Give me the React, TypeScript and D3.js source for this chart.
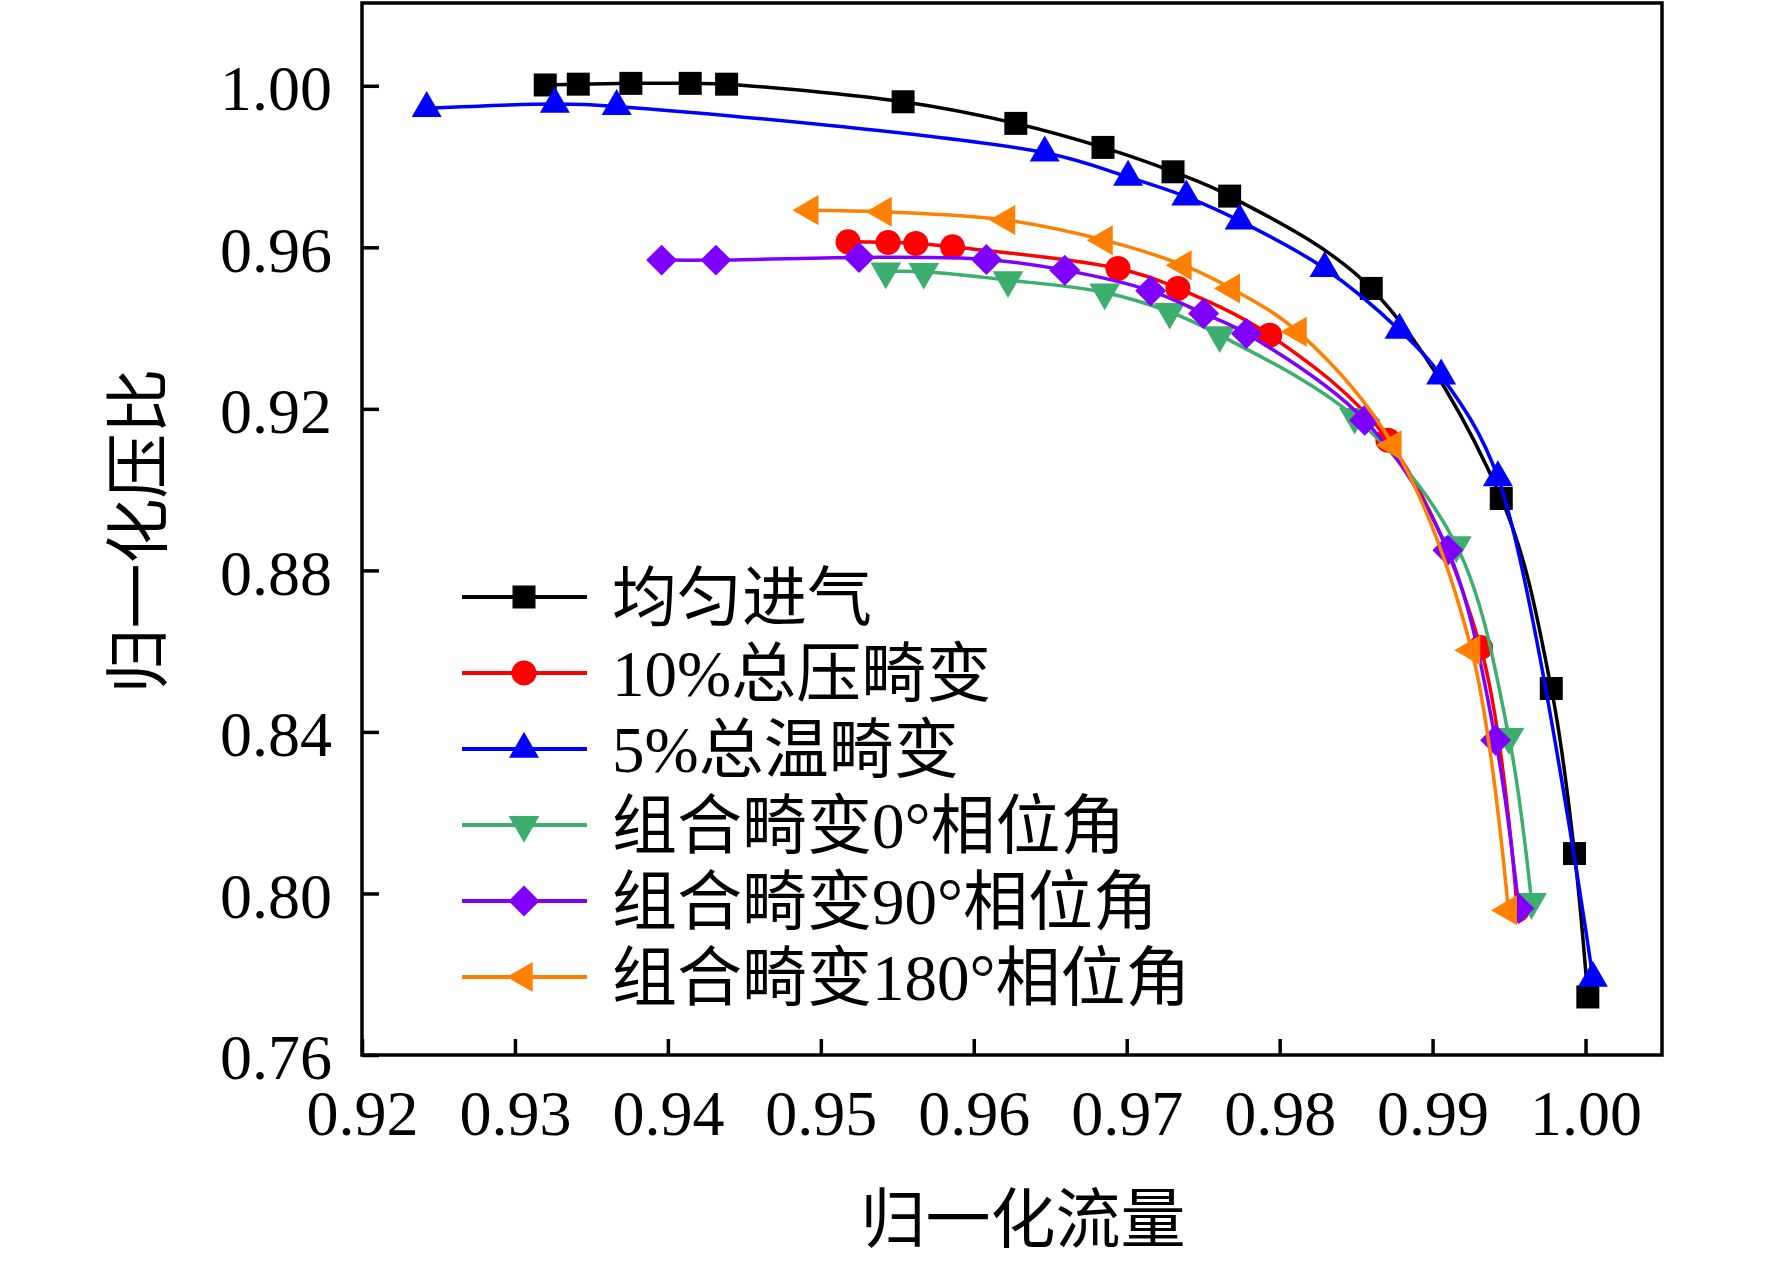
import { useRef, useEffect } from "react";
import * as d3 from "d3";

// 均匀进气
const uniformFlow = [0.93198, 0.93414, 0.93758, 0.94146, 0.94384, 0.95538, 0.96275, 0.96845, 0.97303, 0.97673, 0.98599, 0.99449, 0.99776, 0.99928, 1.00015];
const uniformPR = [1.0002, 1.0004, 1.0006, 1.0006, 1.0004, 0.99604, 0.99069, 0.98474, 0.9787, 0.97268, 0.94982, 0.89781, 0.85075, 0.80988, 0.77437];

// 10%总压畸变
const ptFlow = [0.95178, 0.9544, 0.95621, 0.95861, 0.96943, 0.97335, 0.97935, 0.98708, 0.99314, 0.99553];
const ptPR = [0.96136, 0.96121, 0.96097, 0.96012, 0.95477, 0.94982, 0.93825, 0.91225, 0.86091, 0.79586];

// 5%总温畸变
const ttFlow = [0.92423, 0.93261, 0.93665, 0.96464, 0.97009, 0.9739, 0.97739, 0.98294, 0.98784, 0.99056, 0.99427, 1.00048];
const ttPR = [0.9944, 0.99547, 0.9949, 0.98341, 0.97739, 0.97251, 0.96656, 0.95477, 0.93949, 0.92817, 0.90301, 0.77907];

// 组合畸变0°相位角
const c0Flow = [0.95425, 0.95673, 0.96224, 0.96856, 0.97281, 0.97608, 0.9849, 0.99155, 0.99499, 0.99647];
const c0PR = [0.95403, 0.95393, 0.95188, 0.94883, 0.94403, 0.93825, 0.91802, 0.88624, 0.83877, 0.79792];

// 组合畸变90°相位角
const c90Flow = [0.93959, 0.94314, 0.9525, 0.96083, 0.96595, 0.97157, 0.97503, 0.97782, 0.98556, 0.991, 0.99412, 0.99564];
const c90PR = [0.95683, 0.95683, 0.9575, 0.957, 0.95435, 0.94923, 0.94363, 0.93868, 0.9172, 0.885, 0.83795, 0.79628];

// 组合畸变180°相位角
const c180Flow = [0.94928, 0.95407, 0.96214, 0.96852, 0.97368, 0.97684, 0.9812, 0.98741, 0.99255, 0.99495];
const c180PR = [0.96921, 0.96879, 0.96674, 0.96178, 0.95559, 0.94982, 0.93907, 0.91101, 0.86024, 0.79586];

const seriesNames = ["均匀进气", "10%总压畸变", "5%总温畸变", "组合畸变0°相位角", "组合畸变90°相位角", "组合畸变180°相位角"];
const seriesColors = ["#000000", "#ff0000", "#0000ff", "#3cae6e", "#8000ff", "#ff8000"];
const seriesFlows = [uniformFlow, ptFlow, ttFlow, c0Flow, c90Flow, c180Flow];
const seriesPRs = [uniformPR, ptPR, ttPR, c0PR, c90PR, c180PR];

const xTicks = [0.92, 0.93, 0.94, 0.95, 0.96, 0.97, 0.98, 0.99, 1.0];
const yTicks = [0.76, 0.8, 0.84, 0.88, 0.92, 0.96, 1.0];

const WIDTH = 1772;
const HEIGHT = 1261;
const FONT = "'Liberation Serif', 'Times New Roman', 'Noto Sans CJK SC', serif";

// marker shape per series: symbol, size, rotation
const markers: [d3.SymbolType, number, number][] = [
  [d3.symbolSquare, 529, 0],
  [d3.symbolCircle, 491, 0],
  [d3.symbolTriangle, 390, 0],
  [d3.symbolTriangle, 410, 180],
  [d3.symbolSquare, 480, 45],
  [d3.symbolTriangle, 390, -90],
];

export default function App() {
  const svgRef = useRef<SVGSVGElement>(null);

  useEffect(() => {
    if (!svgRef.current) return;
    const svg = d3.select(svgRef.current);
    svg.selectAll("*").remove();

    const left = 362, right = 1662, top = 3, bottom = 1055;

    const x = d3.scaleLinear().domain([0.92, 1.005]).range([left, right]);
    const y = d3.scaleLinear().domain([0.76, 1.0205]).range([bottom, top]);

    // axes, ticks pointing inward
    const xAxis = svg
      .append("g")
      .attr("transform", `translate(0,${bottom})`)
      .call(
        d3.axisBottom(x).tickValues(xTicks).tickFormat(d3.format(".2f")).tickSizeInner(-16).tickSizeOuter(0).tickPadding(35)
      );
    const yAxis = svg
      .append("g")
      .attr("transform", `translate(${left},0)`)
      .call(
        d3.axisLeft(y).tickValues(yTicks).tickFormat(d3.format(".2f")).tickSizeInner(-17).tickSizeOuter(0).tickPadding(30)
      );
    [xAxis, yAxis].forEach((axis) => {
      axis.select(".domain").remove();
      axis.selectAll(".tick line").attr("stroke", "#000").attr("stroke-width", 3.5);
      axis
        .selectAll(".tick text")
        .attr("fill", "#000")
        .attr("font-size", 64)
        .attr("font-family", FONT);
    });
    yAxis.selectAll(".tick text").attr("dy", "0.37em");

    // frame
    svg
      .append("rect")
      .attr("x", left)
      .attr("y", top)
      .attr("width", right - left)
      .attr("height", bottom - top)
      .attr("fill", "none")
      .attr("stroke", "#000")
      .attr("stroke-width", 3.5);

    // series
    seriesFlows.forEach((flows, i) => {
      const pts = flows.map((f, j) => [f, seriesPRs[i][j]] as [number, number]);
      const line = d3
        .line<[number, number]>()
        .x((d) => x(d[0]))
        .y((d) => y(d[1]))
        .curve(d3.curveCatmullRom.alpha(0.5));
      const g = svg.append("g");
      g.append("path")
        .datum(pts)
        .attr("fill", "none")
        .attr("stroke", seriesColors[i])
        .attr("stroke-width", 3.5)
        .attr("d", line);
      const [type, size, rot] = markers[i];
      const sym = d3.symbol().type(type).size(size);
      g.selectAll("path.mk")
        .data(pts)
        .join("path")
        .attr("class", "mk")
        .attr("fill", seriesColors[i])
        .attr("transform", (d) => `translate(${x(d[0])},${y(d[1])}) rotate(${rot})`)
        .attr("d", sym);
    });

    // legend
    const lg = svg.append("g");
    seriesNames.forEach((name, i) => {
      const ly = 597 + i * 76;
      lg.append("line")
        .attr("x1", 462)
        .attr("x2", 587)
        .attr("y1", ly)
        .attr("y2", ly)
        .attr("stroke", seriesColors[i])
        .attr("stroke-width", 4);
      const [type, size, rot] = markers[i];
      lg.append("path")
        .attr("fill", seriesColors[i])
        .attr("transform", `translate(524,${ly}) rotate(${rot})`)
        .attr("d", d3.symbol().type(type).size(size)());
      lg.append("text")
        .attr("x", 612)
        .attr("y", ly)
        .attr("dy", "0.36em")
        .attr("font-size", 65)
        .attr("font-family", FONT)
        .attr("fill", "#000")
        .text(name);
    });

    // axis titles
    svg
      .append("text")
      .attr("x", 1023)
      .attr("y", 1219)
      .attr("dy", "0.36em")
      .attr("text-anchor", "middle")
      .attr("font-size", 65)
      .attr("font-family", FONT)
      .text("归一化流量");
    svg
      .append("text")
      .attr("transform", "translate(138,531) rotate(-90)")
      .attr("dy", "0.36em")
      .attr("text-anchor", "middle")
      .attr("font-size", 65)
      .attr("font-family", FONT)
      .text("归一化压比");
  }, []);

  return (
    <svg
      ref={svgRef}
      width={WIDTH}
      height={HEIGHT}
      style={{ position: "absolute", left: 0, top: 0, display: "block", background: "#fff" }}
    />
  );
}
